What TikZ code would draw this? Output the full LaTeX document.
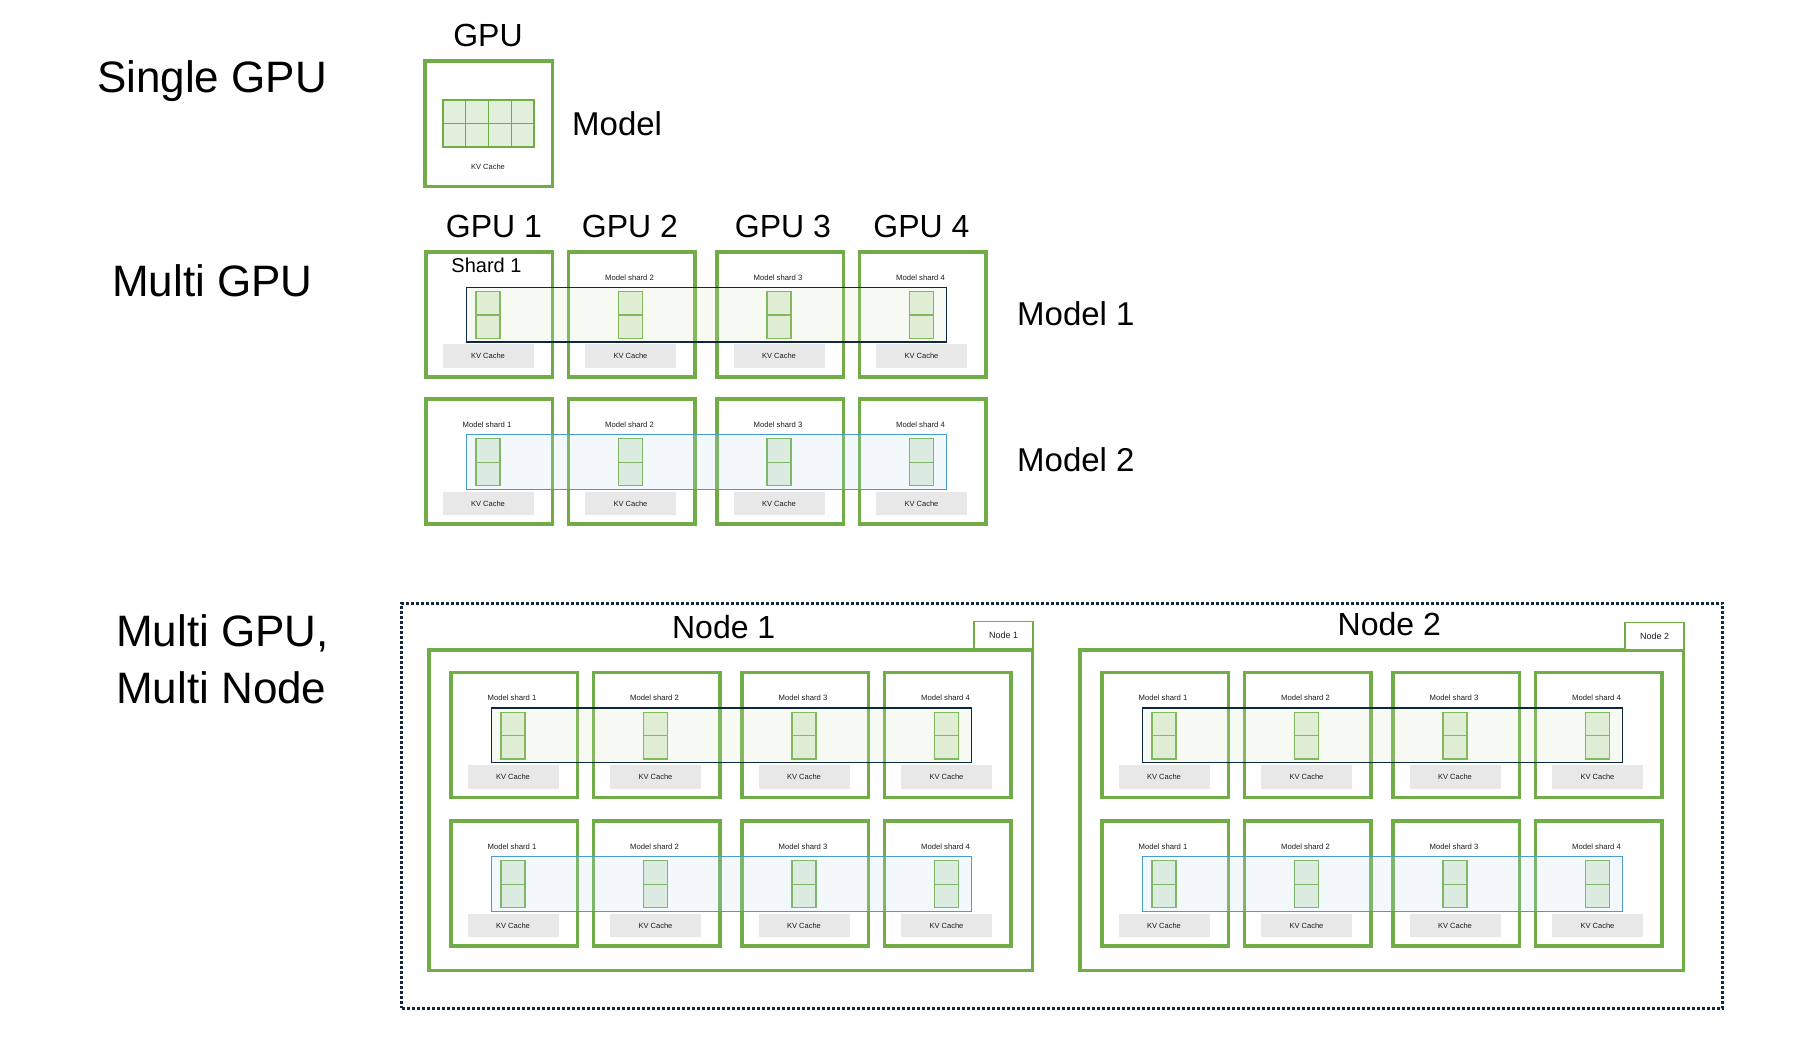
\documentclass[tikz,border=0pt]{standalone}
\usepackage{fontspec}
\setmainfont{Liberation Sans}
\definecolor{gpugreen}{HTML}{70AD47}
\definecolor{blkfill}{HTML}{E2EFDA}
\definecolor{kvgray}{HTML}{E8E8E8}
\definecolor{navyline}{HTML}{0E2841}
\definecolor{blueline}{HTML}{4A9BD3}
\definecolor{ovgfill}{HTML}{D0E8BE}
\definecolor{ovbfill}{HTML}{C4DCF3}
\definecolor{txtdark}{HTML}{1E1E1E}
\tikzset{
  gpubox/.style={draw=gpugreen, line width=3.5pt, minimum width=126.5pt, minimum height=125pt, inner sep=0pt},
  nodebox/.style={draw=gpugreen, line width=3.5pt, minimum width=603.5pt, minimum height=320.5pt, inner sep=0pt},
  blk/.style={draw=gpugreen, line width=1.3pt, fill=blkfill, minimum width=24pt, minimum height=23.4pt, inner sep=0pt},
  cell/.style={draw=gpugreen, line width=1.3pt, fill=blkfill, minimum width=22.75pt, minimum height=23.5pt, inner sep=0pt},
  kvbox/.style={fill=kvgray, minimum width=91pt, minimum height=23.8pt, inner sep=0pt, font=\fontsize{7.5}{9}\selectfont, text=txtdark},
  kvtext/.style={inner sep=0pt, font=\fontsize{7.5}{9}\selectfont, text=txtdark},
  shardlbl/.style={inner sep=0pt, anchor=base, font=\fontsize{7.7}{9}\selectfont, text=txtdark},
  ovgreen/.style={draw=navyline, line width=1.3pt, fill=ovgfill, fill opacity=0.2, draw opacity=1, inner sep=0pt},
  ovblue/.style={draw=blueline, line width=1.3pt, fill=ovbfill, fill opacity=0.2, draw opacity=1, inner sep=0pt},
  tagbox/.style={draw=gpugreen, line width=1.4pt, fill=white, minimum width=59pt, minimum height=27pt, inner sep=0pt, font=\fontsize{9}{11}\selectfont, text=txtdark},
  dotbox/.style={draw=navyline, line width=3pt, dash pattern=on 3pt off 2pt, minimum width=1321pt, minimum height=405pt, inner sep=0pt},
  titlelbl/.style={inner sep=0pt, font=\fontsize{44}{53}\selectfont},
  gpulbl/.style={inner sep=0pt, anchor=base, font=\fontsize{32}{38}\selectfont},
  modellbl/.style={inner sep=0pt, anchor=base west, font=\fontsize{33}{40}\selectfont},
}
\newcommand\gpurow[4]{%
  \foreach \k/\o in {1/0,2/142.5,3/291,4/433.5}{%
    \pgfmathsetmacro\cx{#2+\o+65}%
    \node[gpubox] (#1g\k) at (\cx,#3+64.25) {};
    \node[blk] (#1a\k) at (\cx-1,#3+53.2) {};
    \node[blk] (#1b\k) at (\cx-1,#3+76.6) {};
    \node[kvbox] (#1kv\k) at (\cx-1,#3+106.2) {KV Cache};
  }%
  \foreach \k/\o in {2/142.5,3/291,4/433.5}{%
    \pgfmathsetmacro\cx{#2+\o+65}%
    \node[shardlbl] (#1l\k) at (\cx-2,#3+30) {Model shard \k};
  }%
  \node[#4, anchor=north west, minimum width=480pt, minimum height=54.8pt] (#1ov) at (#2+41.5,#3+36.5) {};
}
\begin{document}
\begin{tikzpicture}[x=1pt,y=-1pt]
\useasboundingbox (0,0) rectangle (1820,1060);

% ---------- left titles ----------
\node[titlelbl, anchor=base] (t1) at (212,92.3) {Single GPU};
\node[titlelbl, anchor=base] (t2) at (212.5,296.7) {Multi GPU};
\node[titlelbl, anchor=base west] (t3a) at (116,646) {Multi GPU,};
\node[titlelbl, anchor=base west] (t3b) at (116,703.3) {Multi Node};

% ---------- single GPU ----------
\node[gpubox, minimum width=127.5pt, minimum height=125.5pt] (sg) at (488.5,123.5) {};
\foreach \i in {0,1,2,3}{
  \foreach \j in {0,1}{
    \node[cell] (sc\i\j) at (443+22.75*\i+11.375,100+23.5*\j+11.75) {};
  }
}
\node[kvtext] (skv) at (488,167) {KV Cache};
\node[gpulbl] (sgl) at (488,46) {GPU};
\node[modellbl] (sml) at (572,135) {Model};

% ---------- multi GPU ----------
\node[gpulbl] (gl1) at (494,237.3) {GPU 1};
\node[gpulbl] (gl2) at (630,237.3) {GPU 2};
\node[gpulbl] (gl3) at (783,237.3) {GPU 3};
\node[gpulbl] (gl4) at (921.5,237.3) {GPU 4};

\gpurow{ma}{424}{250}{ovgreen}
\node[inner sep=0pt, anchor=base, font=\fontsize{20}{24}\selectfont] (mal1) at (486.5,272.7) {Shard 1};
\gpurow{mb}{424}{397.3}{ovblue}
\node[shardlbl] (mbl1) at (487,427.3) {Model shard 1};

\node[modellbl] (m1l) at (1017,325) {Model 1};
\node[modellbl] (m2l) at (1017,471.7) {Model 2};

% ---------- multi node ----------
\node[dotbox] (mn) at (1062,805.5) {};
\node[nodebox] (n1) at (730.5,810) {};
\node[nodebox] (n2) at (1381.5,810) {};
\node[tagbox] (tag1) at (1003.5,635) {Node 1};
\node[tagbox] (tag2) at (1654.5,636) {Node 2};
\node[gpulbl] (n1l) at (723.7,638.3) {Node 1};
\node[gpulbl] (n2l) at (1389.3,635) {Node 2};

\gpurow{na}{449}{670.7}{ovgreen}
\node[shardlbl] (nal1) at (512,700.7) {Model shard 1};
\gpurow{nb}{449}{819.3}{ovblue}
\node[shardlbl] (nbl1) at (512,849.3) {Model shard 1};
\gpurow{pa}{1100}{670.7}{ovgreen}
\node[shardlbl] (pal1) at (1163,700.7) {Model shard 1};
\gpurow{pb}{1100}{819.3}{ovblue}
\node[shardlbl] (pbl1) at (1163,849.3) {Model shard 1};
\end{tikzpicture}
\end{document}
